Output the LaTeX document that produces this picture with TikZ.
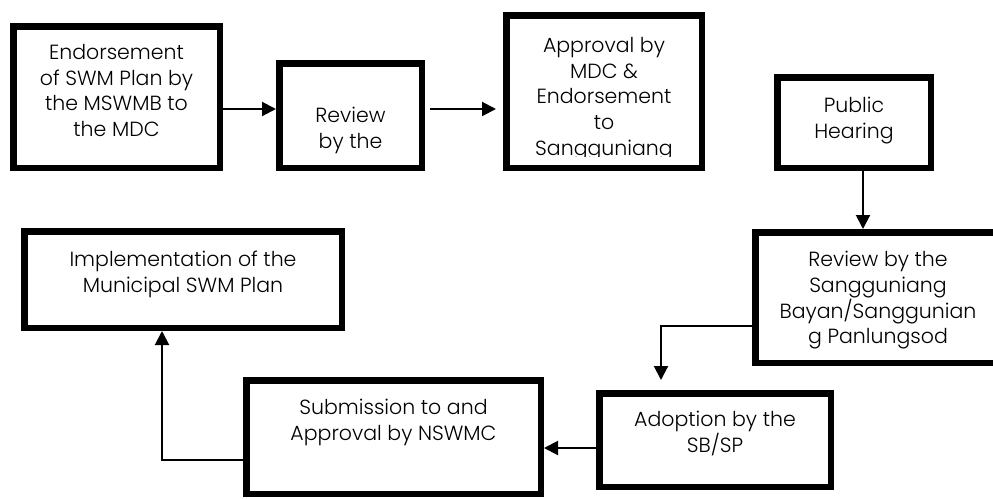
\documentclass[tikz,border=0pt]{standalone}
\usepackage{fontspec}
\setmainfont{Poppins}[UprightFont=* Light]
\usetikzlibrary{arrows.meta,calc}
\tikzset{
  box/.style={draw=black, line width=6.5pt, rectangle, inner sep=0pt, fill=white},
  txt/.style={align=center, inner sep=0pt, anchor=north,
    font=\fontsize{20.5}{25.7}\selectfont,
    execute at begin node=\rule{0pt}{18pt}},
  conn/.style={draw=black, line width=2pt, -{Triangle[length=14pt,width=14pt]}},
}
\begin{document}
\begin{tikzpicture}[x=1pt,y=-1pt]
\useasboundingbox[fill=white] (0,0) rectangle (993,498);
% boxes
\node[box, minimum width=206.5pt, minimum height=141.5pt] (b1) at (116.5,97) {};
\node[box, minimum width=142.5pt, minimum height=104.5pt] (b2) at (350.5,115.5) {};
\node[box, minimum width=195.5pt, minimum height=152.5pt] (b3) at (604,91.5) {};
\node[box, minimum width=153.5pt, minimum height=90.5pt] (b4) at (854,122.5) {};
\node[box, minimum width=245.5pt, minimum height=130.5pt] (b5) at (878,297.5) {};
\node[box, minimum width=231.5pt, minimum height=93.5pt] (b6) at (715,440) {};
\node[box, minimum width=294.5pt, minimum height=113.5pt] (b7) at (393.5,437) {};
\node[box, minimum width=317.5pt, minimum height=96.5pt] (b8) at (183,279.5) {};
% texts (north = first baseline - 18)
\node[txt] (t1) at (116.5,44) {Endorsement\\of SWM Plan by\\the MSWMB to\\the MDC};
\node[txt] (t2) at (350.5,107) {Review\\by the};
\begin{scope}
  \clip (503,12) rectangle (705,156.5);
  \node[txt] (t3) at (604,37) {Approval by\\MDC \&\\Endorsement\\to\\Sangguniang};
\end{scope}
\node[txt] (t4) at (854,97) {Public\\Hearing};
\node[txt] (t5) at (878,251) {Review by the\\Sangguniang\\Bayan/Sanggunian\\g Panlungsod};
\node[txt] (t6) at (715,411) {Adoption by the\\SB/SP};
\node[txt] (t7) at (393.5,399) {Submission to and\\Approval by NSWMC};
\node[txt] (t8) at (183,251) {Implementation of the\\Municipal SWM Plan};
% connectors
\coordinate (y1) at (0,109);
\draw[conn] (b1.east |- y1) -- (b2.west |- y1);
\draw[conn, shorten <=5pt, shorten >=7pt] (b2.east |- y1) -- (b3.west |- y1);
\coordinate (x3) at (863,0);
\draw[conn] (b4.south -| x3) -- (b5.north -| x3);
\coordinate (y4) at (0,326);
\coordinate (x4) at (661,0);
\draw[conn, shorten >=10pt] (b5.west |- y4) -| (b6.north -| x4);
\coordinate (y5) at (0,448);
\draw[conn] (b6.west |- y5) -- (b7.east |- y5);
\coordinate (y6) at (0,460);
\coordinate (x6) at (162,0);
\draw[conn] (b7.west |- y6) -| (b8.south -| x6);
\end{tikzpicture}
\end{document}
